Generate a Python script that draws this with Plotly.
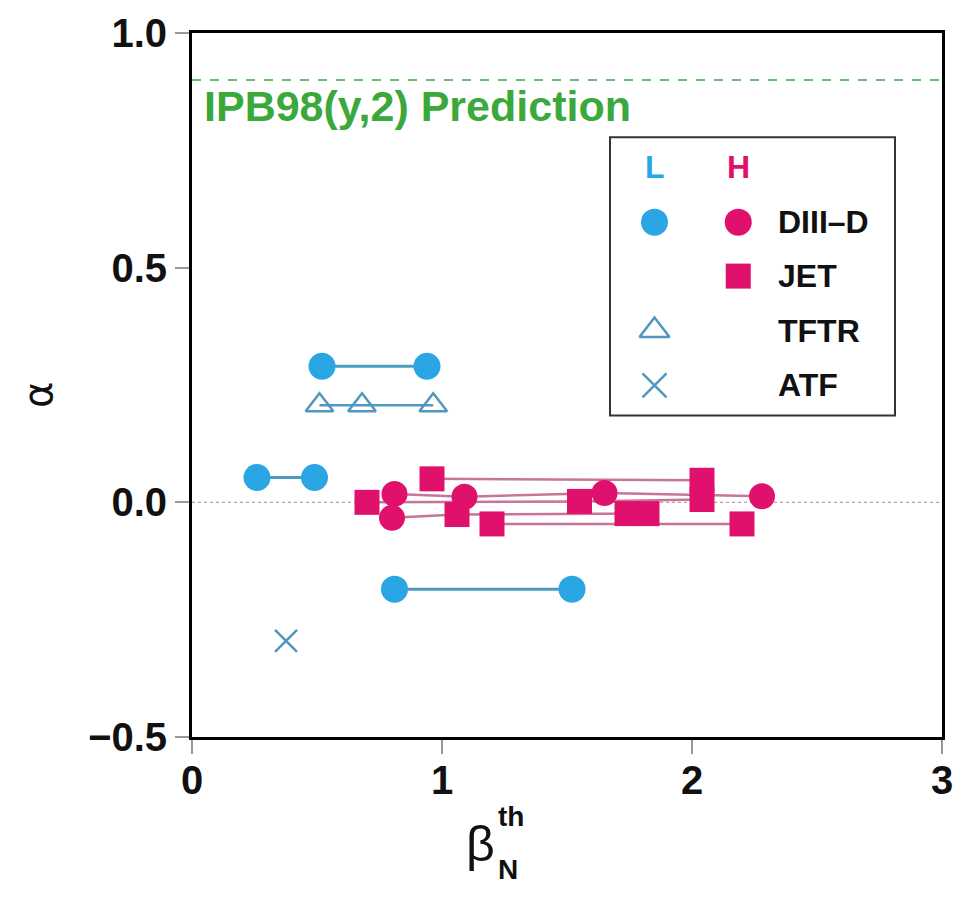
import plotly.graph_objects as go

# ---------------- data ----------------
# L-mode scans (blue)
diiid_L_scans = [
    ([0.52, 0.94], [0.29, 0.29]),
    ([0.26, 0.49], [0.053, 0.053]),
    ([0.81, 1.52], [-0.185, -0.185]),
]
tftr_L_x = [0.51, 0.68, 0.965]
tftr_L_y = [0.207, 0.207, 0.207]
atf_L_x = [0.376]
atf_L_y = [-0.295]

# H-mode scans (pink)
jet_H_scans = [
    ([0.96, 2.04], [0.05, 0.047]),
    ([0.70, 1.55, 2.04], [0.0, 0.002, 0.006]),
    ([1.06, 1.74, 1.82], [-0.026, -0.024, -0.024]),
    ([1.20, 2.20], [-0.046, -0.046]),
]
diiid_H_scans = [
    ([0.81, 1.09, 1.65, 2.28], [0.018, 0.012, 0.02, 0.013]),
    ([0.80, 1.06], [-0.033, -0.026]),
]

prediction = 0.9
x_ticks = [0, 1, 2, 3]
y_ticks = [-0.5, 0.0, 0.5, 1.0]
y_ticklabels = ["\u22120.5", "0.0", "0.5", "1.0"]

BLUE = "#2ba6e4"
BLUE_LINE = "#4b9cc0"
BLUE_OPEN = "#4f97bd"
PINK = "#e0116c"
PINK_LINE = "#c7759a"
GREEN = "#3aa83a"
FONT = "Liberation Sans, Arial"

fig = go.Figure()

# zero dotted reference
fig.add_shape(type="line", x0=0, x1=3, y0=0, y1=0, xref="x", yref="y",
              line=dict(color="#b0a0a8", width=1.2, dash="dot"), layer="below")
# prediction line
fig.add_shape(type="line", x0=0, x1=3, y0=prediction, y1=prediction, xref="x", yref="y",
              line=dict(color=GREEN, width=1.5, dash="dash"))

# L-mode
for xs, ys in diiid_L_scans:
    fig.add_trace(go.Scatter(x=xs, y=ys, mode="lines+markers",
                             line=dict(color=BLUE_LINE, width=3),
                             marker=dict(symbol="circle", size=27, color=BLUE),
                             showlegend=False))
fig.add_trace(go.Scatter(x=tftr_L_x, y=tftr_L_y, mode="lines+markers",
                         line=dict(color=BLUE_LINE, width=2.5),
                         marker=dict(symbol="triangle-up-open", size=24, color=BLUE_OPEN,
                                     line=dict(width=2.5, color=BLUE_OPEN)),
                         showlegend=False))
fig.add_trace(go.Scatter(x=atf_L_x, y=atf_L_y, mode="markers",
                         marker=dict(symbol="x-thin-open", size=22, color=BLUE_OPEN,
                                     line=dict(width=2.5, color=BLUE_OPEN)),
                         showlegend=False))

# H-mode lines first
for xs, ys in jet_H_scans + diiid_H_scans:
    fig.add_trace(go.Scatter(x=xs, y=ys, mode="lines",
                             line=dict(color=PINK_LINE, width=2.5),
                             showlegend=False))
for xs, ys in jet_H_scans:
    fig.add_trace(go.Scatter(x=xs, y=ys, mode="markers",
                             marker=dict(symbol="square", size=25, color=PINK),
                             showlegend=False))
for xs, ys in diiid_H_scans:
    xs_c = [xs[0]] if len(xs) == 2 else xs
    ys_c = [ys[0]] if len(ys) == 2 else ys
    fig.add_trace(go.Scatter(x=xs_c, y=ys_c, mode="markers",
                             marker=dict(symbol="circle", size=26, color=PINK),
                             showlegend=False))

# ---------------- custom legend ----------------
leg_x0, leg_x1, leg_y0, leg_y1 = 1.672, 2.812, 0.185, 0.778
fig.add_shape(type="rect", x0=leg_x0, x1=leg_x1, y0=leg_y0, y1=leg_y1,
              xref="x", yref="y", line=dict(color="#333333", width=2),
              fillcolor="white", layer="below")
colL, colH, colT = 1.85, 2.185, 2.335
rows = [0.597, 0.482, 0.366, 0.249]
fig.add_annotation(x=colL, y=0.714, text="<b>L</b>", showarrow=False,
                   font=dict(size=32, color=BLUE, family=FONT))
fig.add_annotation(x=colH, y=0.714, text="<b>H</b>", showarrow=False,
                   font=dict(size=32, color=PINK, family=FONT))
fig.add_trace(go.Scatter(x=[colL], y=[rows[0]], mode="markers",
                         marker=dict(symbol="circle", size=27, color=BLUE), showlegend=False))
fig.add_trace(go.Scatter(x=[colH], y=[rows[0]], mode="markers",
                         marker=dict(symbol="circle", size=27, color=PINK), showlegend=False))
fig.add_trace(go.Scatter(x=[colH], y=[rows[1]], mode="markers",
                         marker=dict(symbol="square", size=25, color=PINK), showlegend=False))
fig.add_trace(go.Scatter(x=[colL], y=[rows[2]], mode="markers",
                         marker=dict(symbol="triangle-up-open", size=26, color=BLUE_OPEN,
                                     line=dict(width=2.5, color=BLUE_OPEN)), showlegend=False))
fig.add_trace(go.Scatter(x=[colL], y=[rows[3]], mode="markers",
                         marker=dict(symbol="x-thin-open", size=24, color=BLUE_OPEN,
                                     line=dict(width=2.5, color=BLUE_OPEN)), showlegend=False))
for lab, ry in zip(["DIII\u2013D", "JET", "TFTR", "ATF"], rows):
    fig.add_annotation(x=colT, y=ry, text="<b>" + lab + "</b>", showarrow=False,
                       xanchor="left", font=dict(size=32, color="#111111", family=FONT))

# prediction label
fig.add_annotation(x=0.04, y=0.845, xref="x", yref="y", xanchor="left",
                   text="<b>IPB98(y,2) Prediction</b>", showarrow=False,
                   font=dict(size=43, color=GREEN, family=FONT))

# axis titles (custom)
fig.add_annotation(xref="paper", yref="paper", x=-0.205, y=0.486,
                   xanchor="center", text="\u03b1",
                   textangle=-90, showarrow=False,
                   font=dict(size=40, color="#111111", family="DejaVu Sans"))
fig.add_annotation(xref="paper", yref="paper", x=0.385, y=-0.195, xanchor="center",
                   text="\u03b2", showarrow=False,
                   font=dict(size=50, color="#111111", family=FONT))
fig.add_annotation(xref="paper", yref="paper", x=0.405, y=-0.138, text="<b>th</b>",
                   showarrow=False, xanchor="left",
                   font=dict(size=28, color="#111111", family=FONT))
fig.add_annotation(xref="paper", yref="paper", x=0.405, y=-0.213, text="<b>N</b>",
                   showarrow=False, xanchor="left",
                   font=dict(size=28, color="#111111", family=FONT))

fig.update_xaxes(range=[0, 3], tickvals=x_ticks, ticktext=[str(t) for t in x_ticks],
                 ticks="outside", ticklen=14, tickwidth=1.5, tickcolor="#999999",
                 showline=True, linecolor="black", linewidth=3, mirror=True,
                 showgrid=False, zeroline=False, ticklabelstandoff=-8,
                 ticklabeloverflow="allow", automargin=False,
                 tickfont=dict(size=40, color="#111111", family=FONT, weight="bold"))
fig.update_yaxes(range=[-0.5, 1.0], tickvals=y_ticks, ticktext=y_ticklabels,
                 ticks="outside", ticklen=14, tickwidth=1.5, tickcolor="#999999",
                 showline=True, linecolor="black", linewidth=3, mirror=True,
                 showgrid=False, zeroline=False, automargin=False,
                 tickfont=dict(size=40, color="#111111", family=FONT, weight="bold"))

fig.update_layout(width=953, height=900, margin=dict(l=192, r=11, t=33, b=163),
                  plot_bgcolor="white", paper_bgcolor="white", showlegend=False)

fig.write_html("out.html")
